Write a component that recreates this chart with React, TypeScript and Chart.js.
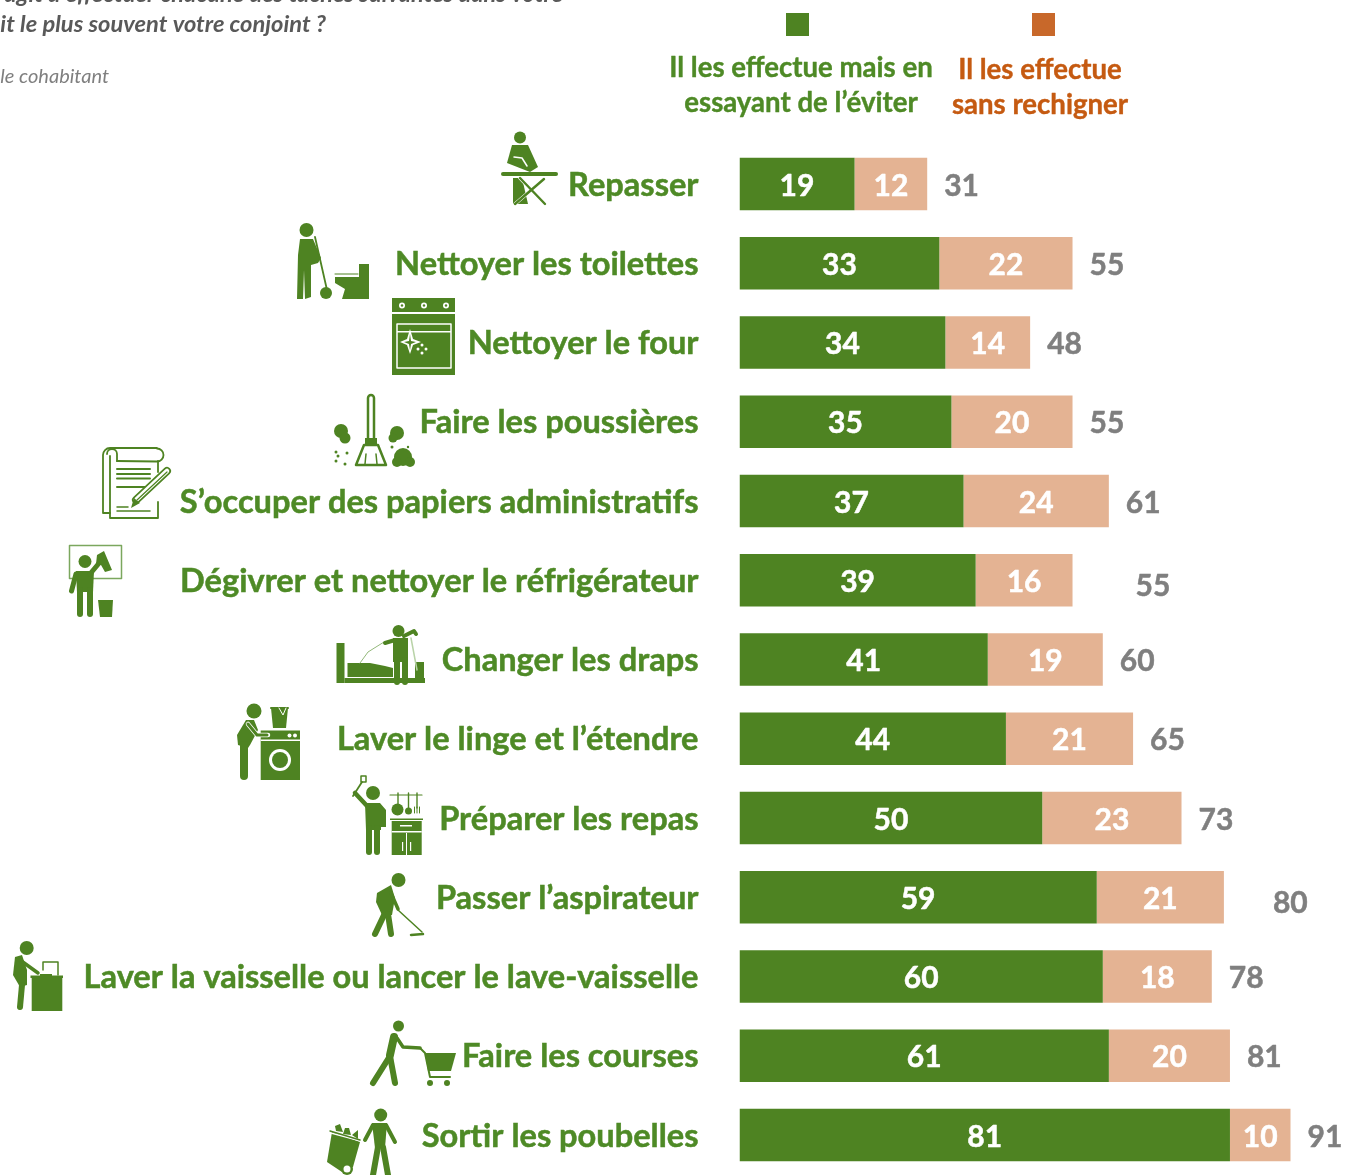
import React, { useEffect, useRef } from "react";
import { Chart, registerables } from "chart.js";

Chart.register(...registerables);

const categories = [
  "Repasser",
  "Nettoyer les toilettes",
  "Nettoyer le four",
  "Faire les poussières",
  "S’occuper des papiers administratifs",
  "Dégivrer et nettoyer le réfrigérateur",
  "Changer les draps",
  "Laver le linge et l’étendre",
  "Préparer les repas",
  "Passer l’aspirateur",
  "Laver la vaisselle ou lancer le lave-vaisselle",
  "Faire les courses",
  "Sortir les poubelles",
];
const eviter = [19, 33, 34, 35, 37, 39, 41, 44, 50, 59, 60, 61, 81];
const sansRechigner = [12, 22, 14, 20, 24, 16, 19, 21, 23, 21, 18, 20, 10];
const totals = [31, 55, 48, 55, 61, 55, 60, 65, 73, 80, 78, 81, 91];
const legendGreen = ["Il les effectue mais en", "essayant de l’éviter"];
const legendOrange = ["Il les effectue", "sans rechigner"];

const GREEN = "#4e8322";
const PALE = "#e4b393";
const ORANGE = "#c8682a";
const FONT = "Lato";

type C = CanvasRenderingContext2D;
const circle = (c: C, x: number, y: number, r: number, col = GREEN) => {
  c.fillStyle = col; c.beginPath(); c.arc(x, y, r, 0, Math.PI * 2); c.fill();
};
const line = (c: C, pts: number[], w: number, col = GREEN) => {
  c.strokeStyle = col; c.lineWidth = w; c.lineCap = "round"; c.lineJoin = "round"; c.beginPath();
  for (let i = 0; i < pts.length; i += 2) i ? c.lineTo(pts[i], pts[i + 1]) : c.moveTo(pts[i], pts[i + 1]);
  c.stroke();
};
const poly = (c: C, pts: number[], col = GREEN) => {
  c.fillStyle = col; c.beginPath();
  for (let i = 0; i < pts.length; i += 2) i ? c.lineTo(pts[i], pts[i + 1]) : c.moveTo(pts[i], pts[i + 1]);
  c.closePath(); c.fill();
};
const rect = (c: C, x0: number, y0: number, x1: number, y1: number, col = GREEN) => {
  c.fillStyle = col; c.fillRect(x0, y0, x1 - x0, y1 - y0);
};
const W = "#ffffff";

function drawIcons(c: C) {
  // repasser
  circle(c, 520, 137.5, 6);
  poly(c, [512, 145, 528, 145, 538, 167, 530, 172, 507, 163]);
  line(c, [514, 157, 522, 158, 527, 166], 1.5, W);
  line(c, [503, 174, 556, 174], 4);
  poly(c, [513, 178, 522, 178, 528, 204, 513, 204]);
  line(c, [515, 204, 544, 179], 3.6, W);
  line(c, [545, 204, 520, 178], 3.6, W);
  line(c, [515, 204, 544, 179], 2.4);
  line(c, [545, 204, 520, 178], 2.4);
  // toilettes
  circle(c, 306.5, 230, 7);
  poly(c, [300, 239, 313, 239, 321, 258, 318, 263, 311, 265, 311, 297, 305, 299, 304, 270, 303, 299, 297, 299, 298, 255]);
  line(c, [315, 237, 327, 290], 1.8);
  circle(c, 326, 293, 6);
  poly(c, [335, 273, 359, 273, 359, 264, 369, 264, 369, 299, 342, 299, 345, 289, 335, 283]);
  rect(c, 335, 273, 359, 277, W);
  line(c, [335, 274, 358, 274], 1, GREEN);
  // four
  rect(c, 392, 298, 455, 375);
  rect(c, 392, 312, 455, 314, W);
  [402, 424, 446].forEach((x) => { circle(c, x, 305.5, 3, W); circle(c, x, 305.5, 1.2); });
  c.strokeStyle = W; c.lineWidth = 1.5; c.strokeRect(397, 324, 54, 44);
  rect(c, 397, 331, 451, 332.5, W);
  poly(c, [410, 329, 413, 339, 421, 342, 413, 345, 410, 354, 407, 345, 400, 342, 407, 339], W);
  poly(c, [410, 334, 411, 341, 416, 342, 411, 344, 410, 350, 409, 344, 404, 342, 409, 341]);
  [[422, 345], [422, 353], [418, 349], [426, 349]].forEach(([x, y]) => circle(c, x, y, 1.5, W));
  // poussieres
  c.strokeStyle = GREEN; c.lineWidth = 2.5; c.lineJoin = "round";
  c.beginPath(); c.roundRect(368, 395, 6, 46, 3); c.stroke();
  rect(c, 365, 438, 377, 444);
  c.beginPath(); c.moveTo(364, 445); c.lineTo(378, 445); c.lineTo(386, 465); c.lineTo(356, 465); c.closePath(); c.stroke();
  line(c, [366, 454, 365, 464], 1.5); line(c, [376, 454, 377, 464], 1.5);
  circle(c, 341, 431, 7); circle(c, 345, 438, 5.5);
  circle(c, 397, 433, 7); circle(c, 393, 438, 4.5);
  circle(c, 403, 457, 9); circle(c, 397, 462, 5); circle(c, 410, 462, 5);
  [[336, 452, 1.5], [338, 456, 1.5], [347, 453, 1.5], [336, 461, 1.5], [345, 464, 1.5], [392, 447, 1.5], [408, 447, 1.2]].forEach(([x, y, r]) => circle(c, x, y, r));
  // papiers
  c.strokeStyle = GREEN; c.lineWidth = 1.8;
  c.beginPath(); c.moveTo(110, 513); c.lineTo(103, 513); c.lineTo(103, 456); c.arc(110, 455, 7, Math.PI, 1.5 * Math.PI); c.lineTo(157, 448); c.arc(157, 455, 6.5, -Math.PI / 2, Math.PI / 2); c.lineTo(117, 461); c.stroke();
  c.beginPath(); c.arc(112, 454, 5, Math.PI, 2 * Math.PI); c.lineTo(117, 461); c.stroke();
  c.beginPath(); c.moveTo(110, 456); c.lineTo(110, 518); c.lineTo(158, 518); c.lineTo(158, 502); c.stroke();
  c.beginPath(); c.moveTo(158, 472); c.lineTo(158, 461); c.stroke();
  [469, 474, 478.5, 487].forEach((y) => line(c, [117, y, 150, y], 2));
  line(c, [117, 507, 128, 507], 1.5); line(c, [117, 511, 150, 511], 1.5);
  line(c, [136, 500, 167, 471], 8);
  line(c, [136, 500, 167, 471], 4.5, W);
  line(c, [137, 500, 167, 472], 1.2);
  poly(c, [131, 508, 134, 498, 140, 503]);
  // refrigerateur
  c.strokeStyle = "#7ba75e"; c.lineWidth = 1.5; c.strokeRect(69.5, 545.5, 52, 33);
  circle(c, 85, 561.5, 6.5);
  poly(c, [76, 571, 94, 571, 93, 592, 77, 592]);
  line(c, [80, 590, 80, 614], 6); line(c, [90, 590, 90, 614], 6);
  line(c, [90, 574, 100, 562], 5);
  line(c, [76, 574, 71.5, 591], 5);
  poly(c, [97, 555, 104, 551, 112, 570, 105, 572, 101, 565, 96, 564]);
  poly(c, [98, 600, 113, 600, 112, 617, 100, 617]);
  // draps
  rect(c, 336.5, 643, 344.5, 683);
  poly(c, [347.5, 663, 370, 663, 385, 666, 393, 668, 393, 677, 347.5, 677]);
  rect(c, 344.5, 678, 425, 683);
  rect(c, 415, 662, 424, 683);
  line(c, [360, 663, 368, 652, 384, 642], 1, "#93b87a");
  line(c, [411, 638, 417, 670], 1.5, "#b9d3a8");
  circle(c, 398.5, 631, 6);
  poly(c, [393, 638, 408, 638, 408, 662, 393, 662]);
  line(c, [397, 660, 397, 682], 6); line(c, [405, 660, 405, 682], 6);
  line(c, [395, 640, 385, 643], 4); line(c, [404, 636, 414, 631, 416, 634], 4);
  // linge
  circle(c, 254, 711, 7.5);
  poly(c, [246, 720, 254, 720, 258, 730, 250, 745, 248, 748, 238, 745, 237, 735]);
  line(c, [244, 745, 244, 776], 8);
  rect(c, 260.7, 730.5, 300, 780);
  rect(c, 260.7, 739.5, 300, 741, W);
  circle(c, 280, 760, 11, W); circle(c, 280, 760, 8);
  circle(c, 289.5, 735.5, 2, W); circle(c, 295, 735.5, 2, W);
  line(c, [248, 724, 257, 735, 268, 735], 4.5, W);
  line(c, [248, 724, 257, 735, 267, 735], 3);
  poly(c, [271, 708, 288, 708, 286, 728, 273, 728]);
  line(c, [271, 708, 288, 708], 2);
  line(c, [279, 708, 283, 715, 286, 708], 1, W);
  // repas
  circle(c, 373, 793, 7);
  poly(c, [365, 803, 380, 803, 386, 810, 386, 827, 381, 827, 381, 830, 366, 830]);
  line(c, [369, 828, 369, 852], 6); line(c, [377, 828, 377, 852], 6);
  line(c, [368, 807, 355, 793], 4.5);
  line(c, [353, 796, 362, 782], 1.8);
  c.strokeStyle = GREEN; c.lineWidth = 1.5; c.strokeRect(361, 776, 5, 6);
  rect(c, 391.7, 821, 421.7, 855);
  rect(c, 390, 818.5, 423, 820, GREEN);
  rect(c, 391.7, 831, 421.7, 832.5, W);
  rect(c, 400, 825, 412, 826.5, W);
  rect(c, 406, 833, 407, 855, W);
  rect(c, 402, 842, 403.2, 851, W); rect(c, 410, 842, 411.2, 851, W);
  line(c, [390, 795, 422, 795], 1.2);
  line(c, [398, 793, 398, 806], 1.4); circle(c, 397.5, 809.5, 6);
  line(c, [408.5, 793, 408.5, 809], 1.4); circle(c, 408.5, 811, 3.5);
  line(c, [417, 793, 417, 808], 1.4);
  [414.5, 417, 419.5].forEach((x) => line(c, [x, 807, x, 813], 1));
  // aspirateur
  circle(c, 398.5, 880, 7);
  poly(c, [377, 893, 391, 885, 395, 898, 392, 915, 382, 915, 376, 902]);
  line(c, [385, 913, 375, 934], 6); line(c, [388, 914, 391, 934], 6);
  line(c, [391, 893, 398, 909], 3.5);
  line(c, [398, 910, 422, 932], 1.5);
  line(c, [411, 935, 423, 934], 2.5);
  // vaisselle
  circle(c, 26.7, 948, 7);
  poly(c, [15, 957, 22, 955, 27, 970, 27, 985, 20, 987, 13, 975]);
  line(c, [22, 985, 20, 1007], 6);
  line(c, [20, 960, 38, 973], 3.5);
  rect(c, 31.7, 978, 62.3, 1011);
  rect(c, 30.5, 975.5, 63, 978);
  line(c, [43, 970, 43, 962, 58, 962, 58, 975], 1.5);
  rect(c, 40, 974, 52, 976);
  // courses
  circle(c, 398.5, 1026, 5.5);
  line(c, [394, 1037, 390, 1055], 8);
  line(c, [390, 1056, 373, 1083], 6); line(c, [390, 1056, 395, 1083], 6);
  line(c, [397, 1038, 403, 1047, 420, 1048], 3.5);
  line(c, [420, 1048, 425, 1053, 430, 1077, 450, 1077], 2);
  poly(c, [425, 1053, 456, 1053, 451, 1071, 428, 1071]);
  circle(c, 430, 1083, 3); circle(c, 447, 1083, 3);
  // poubelles
  circle(c, 380.7, 1115, 6.5);
  poly(c, [372, 1123, 387, 1123, 385, 1148, 375, 1148]);
  line(c, [373, 1125, 365, 1140], 4); line(c, [386, 1125, 395, 1142], 4);
  line(c, [378, 1147, 373, 1175], 6); line(c, [383, 1147, 388, 1175], 6);
  poly(c, [332, 1132, 360, 1142, 353, 1167, 342, 1172, 327, 1162]);
  line(c, [331, 1133, 361, 1141], 1.5, W);
  line(c, [330, 1131, 360, 1140], 1.5);
  circle(c, 347, 1169, 6); circle(c, 347, 1169, 3.5, W);
  poly(c, [335, 1126, 340, 1124, 343, 1132, 336, 1131]);
  poly(c, [345, 1128, 349, 1128, 351, 1135, 343, 1134]);
  poly(c, [352, 1135, 358, 1130, 358, 1139]);
}

// Two totals sit away from their bar in the source picture.
const totalShift: Record<number, [number, number]> = { 5: [46, 4], 9: [32, 4] };

const heavyText = (c: C, s: string, x: number, y: number, col: string, w = 0.5) => {
  c.fillStyle = col; c.strokeStyle = col; c.lineWidth = w; c.lineJoin = "round";
  c.fillText(s, x, y); c.strokeText(s, x, y);
};

const furniture = {
  id: "furniture",
  beforeDatasetsDraw(chart: any) {
    const c: C = chart.ctx;
    c.save();
    c.textBaseline = "alphabetic";
    c.textAlign = "right";
    c.fillStyle = "#595959";
    c.font = `italic bold 23.7px ${FONT}`;
    c.fillText("agit à effectuer chacune des tâches suivantes dans votre", 563, 2);
    c.fillText("it le plus souvent votre conjoint ?", 326, 32);
    c.fillStyle = "#7f7f7f";
    c.font = `italic 20px ${FONT}`;
    c.fillText("le cohabitant", 109, 83);
    c.fillStyle = GREEN; c.fillRect(786, 13, 23, 23);
    c.fillStyle = ORANGE; c.fillRect(1032, 13, 23, 23);
    c.textAlign = "center";
    c.font = `bold 27.6px ${FONT}`;
    heavyText(c, legendGreen[0], 801, 77, "#4e8a26", 0.4);
    heavyText(c, legendGreen[1], 801, 112, "#4e8a26", 0.4);
    heavyText(c, legendOrange[0], 1040, 79, "#c55a11", 0.4);
    heavyText(c, legendOrange[1], 1040, 114, "#c55a11", 0.4);
    drawIcons(c);
    c.restore();
  },
  afterDatasetsDraw(chart: any) {
    const c: C = chart.ctx;
    const x = chart.scales.x;
    const y = chart.scales.y;
    c.save();
    c.textBaseline = "middle";
    c.font = `bold 30px ${FONT}`;
    c.textAlign = "center";
    categories.forEach((_, i) => {
      const py = y.getPixelForValue(i) + 2;
      heavyText(c, String(eviter[i]), (x.getPixelForValue(0) + x.getPixelForValue(eviter[i])) / 2, py, "#ffffff");
      heavyText(c, String(sansRechigner[i]), (x.getPixelForValue(eviter[i]) + x.getPixelForValue(eviter[i] + sansRechigner[i])) / 2, py, "#ffffff");
    });
    c.textAlign = "left";
    categories.forEach((_, i) => {
      const s = totalShift[i] || [0, 0];
      heavyText(c, String(totals[i]), x.getPixelForValue(eviter[i] + sansRechigner[i]) + 17 + s[0], y.getPixelForValue(i) + 2 + s[1], "#7f7f7f");
    });
    c.restore();
  },
};

export default function App() {
  const ref = useRef<HTMLCanvasElement>(null);
  useEffect(() => {
    const chart = new Chart(ref.current!, {
      type: "bar",
      data: {
        labels: categories,
        datasets: [
          { label: "Il les effectue mais en essayant de l’éviter", data: eviter, backgroundColor: GREEN, stack: "a", barPercentage: 0.6625, categoryPercentage: 1 },
          { label: "Il les effectue sans rechigner", data: sansRechigner, backgroundColor: PALE, stack: "a", barPercentage: 0.6625, categoryPercentage: 1 },
        ],
      },
      options: {
        indexAxis: "y",
        animation: false,
        responsive: false,
        layout: { autoPadding: false, padding: { top: 144.4, bottom: 0.35, left: 0, right: 0 } },
        plugins: { legend: { display: false }, tooltip: { enabled: false } },
        scales: {
          x: { display: false, stacked: true, min: 0, max: 100 },
          y: {
            stacked: true,
            grid: { display: false, tickLength: 0 },
            border: { display: false },
            afterFit: (s: any) => {
              s.width = 739.5;
              s.paddingTop = 0;
              s.paddingBottom = 0;
              if (s._margins) s._margins.bottom = 0;
            },
            ticks: { color: "#4e8a26", padding: 41, labelOffset: 1, autoSkip: false, textStrokeColor: "#4e8a26", textStrokeWidth: 0.5, font: { family: FONT, weight: "bold", size: 32.6 } },
          },
        },
      },
      plugins: [furniture],
    } as any);
    return () => chart.destroy();
  }, []);
  return (
    <div style={{ position: "absolute", left: 0, top: 0, width: 1345, height: 1175, background: "#fff", overflow: "hidden" }}>
      <canvas ref={ref} width={1345} height={1175} style={{ display: "block" }} />
    </div>
  );
}
